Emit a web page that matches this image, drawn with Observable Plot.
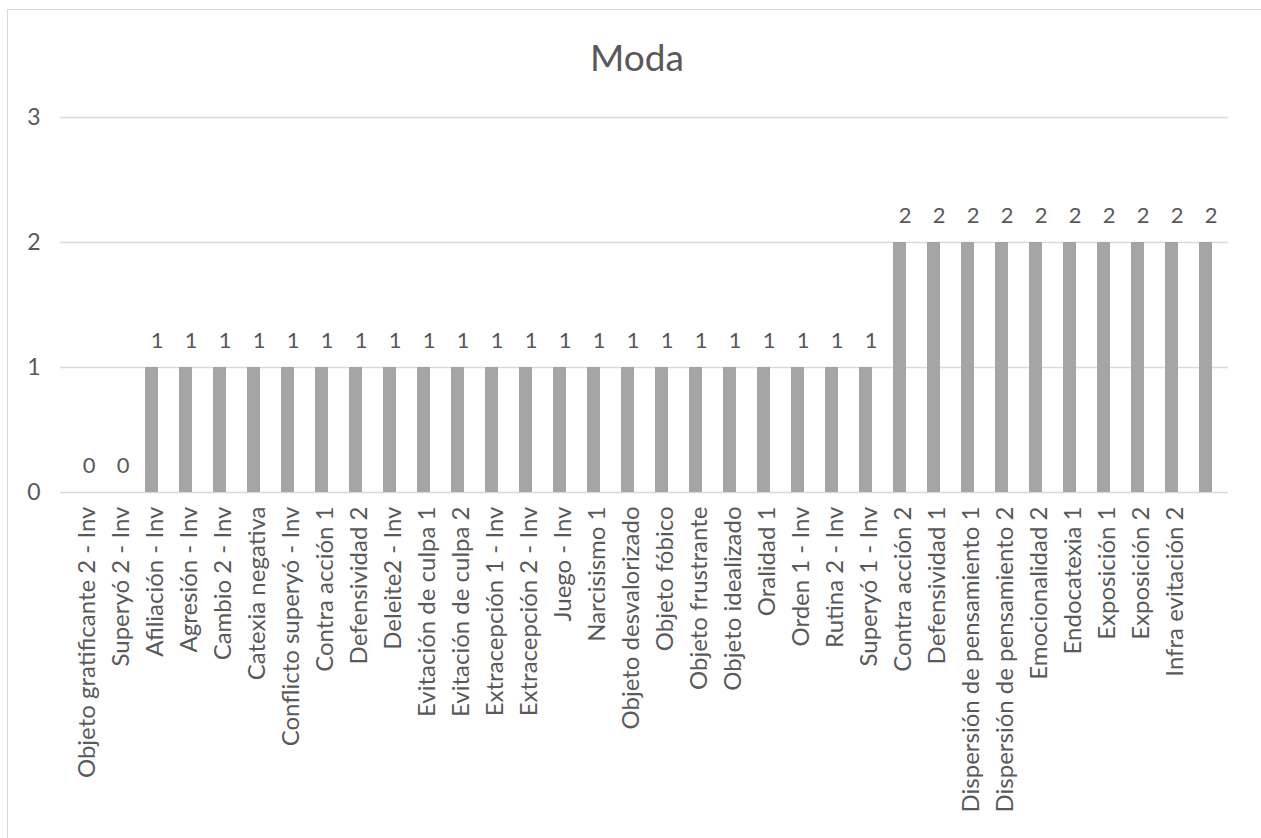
<!DOCTYPE html>
<html>
<head>
<meta charset="utf-8">
<script src="https://cdn.jsdelivr.net/npm/d3@7"></script>
<script src="https://cdn.jsdelivr.net/npm/@observablehq/plot@0.6"></script>
<style>
  html, body { margin: 0; padding: 0; background: #fff; overflow: hidden; }
  #wrap { position: relative; width: 1261px; height: 838px; overflow: hidden; font-family: Lato, "Open Sans", sans-serif; }
  #frame { position: absolute; left: 7px; top: 9px; width: 1300px; height: 900px; border: 1px solid #d9d9d9; box-sizing: border-box; }
  #title { position: absolute; left: 0; width: 1274px; top: 38px; text-align: center; font-size: 37px; color: #595959; line-height: 1; }
  #chart { position: absolute; left: 0; top: 0; }
</style>
</head>
<body>
<div id="wrap">
  <div id="frame"></div>
  <div id="chart"></div>
  <div id="title">Moda</div>
</div>
<script>
const title = "Moda";
const categories = [
  "Objeto gratificante 2 - Inv", "Superyó 2 - Inv",
  "Afiliación - Inv", "Agresión - Inv", "Cambio 2 - Inv", "Catexia negativa",
  "Conflicto superyó - Inv", "Contra acción 1", "Defensividad 2", "Deleite2 - Inv",
  "Evitación de culpa 1", "Evitación de culpa 2", "Extracepción 1 - Inv", "Extracepción 2 - Inv",
  "Juego - Inv", "Narcisismo 1", "Objeto desvalorizado", "Objeto fóbico", "Objeto frustrante",
  "Objeto idealizado", "Oralidad 1", "Orden 1 - Inv", "Rutina 2 - Inv", "Superyó 1 - Inv",
  "Contra acción 2", "Defensividad 1", "Dispersión de pensamiento 1", "Dispersión de pensamiento 2",
  "Emocionalidad 2", "Endocatexia 1", "Exposición 1", "Exposición 2", "Infra evitación 2", ""
];
const values = [
  0, 0,
  1, 1, 1, 1, 1, 1, 1, 1, 1, 1, 1, 1, 1, 1, 1, 1, 1, 1, 1, 1, 1, 1,
  2, 2, 2, 2, 2, 2, 2, 2, 2, 2
];
const yTicks = [0, 1, 2, 3];

const data = categories.map((c, i) => ({category: c, value: values[i]}));
const textColor = "#595959";

const chart = Plot.plot({
  width: 1261,
  height: 838,
  marginLeft: 60,
  marginRight: 33,
  marginTop: 117,
  marginBottom: 346,
  style: {fontFamily: "Lato, 'Open Sans', sans-serif", background: "transparent", color: textColor},
  x: {domain: categories, paddingInner: 0.62, paddingOuter: 0.31, label: null},
  y: {domain: [0, 3], label: null},
  marks: [
    Plot.ruleY(yTicks, {stroke: "#d9d9d9", strokeWidth: 1.3}),
    Plot.barY(data, {x: "category", y: "value", fill: "#a5a5a5"}),
    Plot.text(data, {x: "category", y: "value", text: d => String(d.value), dy: -27, dx: 5, fontSize: 22, fill: textColor}),
    Plot.axisY(yTicks, {tickSize: 0, tickPadding: 20, fontSize: 23, fill: textColor, label: null, tickFormat: d => String(d)}),
    Plot.axisX({tickSize: 0, tickPadding: 14, tickRotate: -90, fontSize: 24, dx: 3, fill: textColor, label: null})
  ]
});
document.getElementById("chart").appendChild(chart);
document.getElementById("title").textContent = title;
</script>
</body>
</html>
